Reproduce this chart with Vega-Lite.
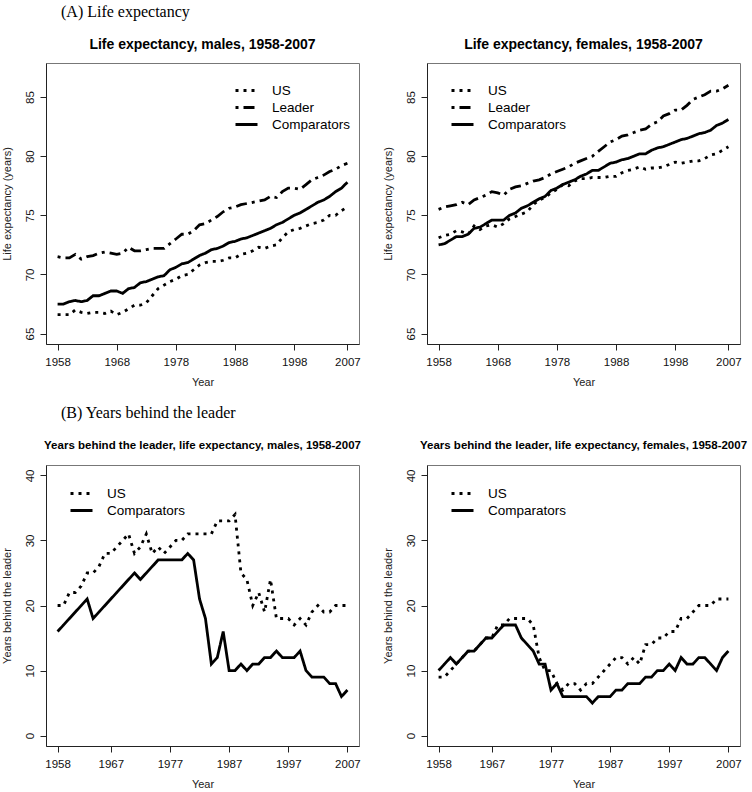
{
"$schema":"https://vega.github.io/schema/vega-lite/v6.json",
"background":"white",
"padding":{"left":0,"top":3,"right":0,"bottom":0},
"spacing":17,
"config":{
 "view":{"stroke":"#777","strokeWidth":1},
 "font":"Liberation Sans",
 "axis":{"grid":false,"domainColor":"#222","domainWidth":1,"tickColor":"#222","tickSize":6,"labelFont":"Liberation Sans","labelFontSize":11.5,"labelColor":"#111","labelPadding":6,"titleFont":"Liberation Sans","titleFontWeight":"normal","titleFontSize":11,"titleColor":"#222"},
 "axisX":{"titlePadding":9},
 "axisY":{"labelAngle":-90,"labelAlign":"center","labelBaseline":"bottom","labelPadding":5,"titlePadding":12},
 "legend":{"title":null,"symbolType":"stroke","symbolSize":484,"symbolStrokeWidth":2.8,"symbolStrokeColor":"black","labelFont":"Liberation Sans","labelFontSize":13.5,"labelColor":"black","labelOffset":13,"rowPadding":0,"clipHeight":17,"orient":"none"},
 "title":{"font":"Liberation Sans","fontWeight":"bold","color":"black","anchor":"middle","baseline":"alphabetic"}
},
"datasets":{
"males":[
{"year":1958,"series":"US","value":66.6},{"year":1958,"series":"Leader","value":71.5},{"year":1958,"series":"Comparators","value":67.5},
{"year":1959,"series":"US","value":66.6},{"year":1959,"series":"Leader","value":71.4},{"year":1959,"series":"Comparators","value":67.5},
{"year":1960,"series":"US","value":66.6},{"year":1960,"series":"Leader","value":71.4},{"year":1960,"series":"Comparators","value":67.7},
{"year":1961,"series":"US","value":67.0},{"year":1961,"series":"Leader","value":71.7},{"year":1961,"series":"Comparators","value":67.8},
{"year":1962,"series":"US","value":66.8},{"year":1962,"series":"Leader","value":71.3},{"year":1962,"series":"Comparators","value":67.7},
{"year":1963,"series":"US","value":66.7},{"year":1963,"series":"Leader","value":71.5},{"year":1963,"series":"Comparators","value":67.8},
{"year":1964,"series":"US","value":66.8},{"year":1964,"series":"Leader","value":71.6},{"year":1964,"series":"Comparators","value":68.2},
{"year":1965,"series":"US","value":66.8},{"year":1965,"series":"Leader","value":71.8},{"year":1965,"series":"Comparators","value":68.2},
{"year":1966,"series":"US","value":66.7},{"year":1966,"series":"Leader","value":71.9},{"year":1966,"series":"Comparators","value":68.4},
{"year":1967,"series":"US","value":66.9},{"year":1967,"series":"Leader","value":71.8},{"year":1967,"series":"Comparators","value":68.6},
{"year":1968,"series":"US","value":66.6},{"year":1968,"series":"Leader","value":71.7},{"year":1968,"series":"Comparators","value":68.6},
{"year":1969,"series":"US","value":66.8},{"year":1969,"series":"Leader","value":71.8},{"year":1969,"series":"Comparators","value":68.4},
{"year":1970,"series":"US","value":67.1},{"year":1970,"series":"Leader","value":72.3},{"year":1970,"series":"Comparators","value":68.8},
{"year":1971,"series":"US","value":67.4},{"year":1971,"series":"Leader","value":72.0},{"year":1971,"series":"Comparators","value":68.9},
{"year":1972,"series":"US","value":67.4},{"year":1972,"series":"Leader","value":72.0},{"year":1972,"series":"Comparators","value":69.3},
{"year":1973,"series":"US","value":67.6},{"year":1973,"series":"Leader","value":72.1},{"year":1973,"series":"Comparators","value":69.4},
{"year":1974,"series":"US","value":68.2},{"year":1974,"series":"Leader","value":72.2},{"year":1974,"series":"Comparators","value":69.6},
{"year":1975,"series":"US","value":68.8},{"year":1975,"series":"Leader","value":72.2},{"year":1975,"series":"Comparators","value":69.8},
{"year":1976,"series":"US","value":69.1},{"year":1976,"series":"Leader","value":72.2},{"year":1976,"series":"Comparators","value":69.9},
{"year":1977,"series":"US","value":69.4},{"year":1977,"series":"Leader","value":72.6},{"year":1977,"series":"Comparators","value":70.4},
{"year":1978,"series":"US","value":69.6},{"year":1978,"series":"Leader","value":73.0},{"year":1978,"series":"Comparators","value":70.6},
{"year":1979,"series":"US","value":69.9},{"year":1979,"series":"Leader","value":73.4},{"year":1979,"series":"Comparators","value":70.9},
{"year":1980,"series":"US","value":70.0},{"year":1980,"series":"Leader","value":73.4},{"year":1980,"series":"Comparators","value":71.0},
{"year":1981,"series":"US","value":70.4},{"year":1981,"series":"Leader","value":73.7},{"year":1981,"series":"Comparators","value":71.3},
{"year":1982,"series":"US","value":70.8},{"year":1982,"series":"Leader","value":74.2},{"year":1982,"series":"Comparators","value":71.6},
{"year":1983,"series":"US","value":71.0},{"year":1983,"series":"Leader","value":74.3},{"year":1983,"series":"Comparators","value":71.8},
{"year":1984,"series":"US","value":71.1},{"year":1984,"series":"Leader","value":74.6},{"year":1984,"series":"Comparators","value":72.1},
{"year":1985,"series":"US","value":71.1},{"year":1985,"series":"Leader","value":74.9},{"year":1985,"series":"Comparators","value":72.2},
{"year":1986,"series":"US","value":71.2},{"year":1986,"series":"Leader","value":75.3},{"year":1986,"series":"Comparators","value":72.4},
{"year":1987,"series":"US","value":71.4},{"year":1987,"series":"Leader","value":75.6},{"year":1987,"series":"Comparators","value":72.7},
{"year":1988,"series":"US","value":71.4},{"year":1988,"series":"Leader","value":75.7},{"year":1988,"series":"Comparators","value":72.8},
{"year":1989,"series":"US","value":71.7},{"year":1989,"series":"Leader","value":75.9},{"year":1989,"series":"Comparators","value":73.0},
{"year":1990,"series":"US","value":71.8},{"year":1990,"series":"Leader","value":76.0},{"year":1990,"series":"Comparators","value":73.1},
{"year":1991,"series":"US","value":72.0},{"year":1991,"series":"Leader","value":76.1},{"year":1991,"series":"Comparators","value":73.3},
{"year":1992,"series":"US","value":72.3},{"year":1992,"series":"Leader","value":76.2},{"year":1992,"series":"Comparators","value":73.5},
{"year":1993,"series":"US","value":72.2},{"year":1993,"series":"Leader","value":76.3},{"year":1993,"series":"Comparators","value":73.7},
{"year":1994,"series":"US","value":72.4},{"year":1994,"series":"Leader","value":76.6},{"year":1994,"series":"Comparators","value":73.9},
{"year":1995,"series":"US","value":72.5},{"year":1995,"series":"Leader","value":76.5},{"year":1995,"series":"Comparators","value":74.2},
{"year":1996,"series":"US","value":73.1},{"year":1996,"series":"Leader","value":77.0},{"year":1996,"series":"Comparators","value":74.4},
{"year":1997,"series":"US","value":73.6},{"year":1997,"series":"Leader","value":77.3},{"year":1997,"series":"Comparators","value":74.7},
{"year":1998,"series":"US","value":73.8},{"year":1998,"series":"Leader","value":77.3},{"year":1998,"series":"Comparators","value":75.0},
{"year":1999,"series":"US","value":73.9},{"year":1999,"series":"Leader","value":77.2},{"year":1999,"series":"Comparators","value":75.2},
{"year":2000,"series":"US","value":74.1},{"year":2000,"series":"Leader","value":77.6},{"year":2000,"series":"Comparators","value":75.5},
{"year":2001,"series":"US","value":74.3},{"year":2001,"series":"Leader","value":78.0},{"year":2001,"series":"Comparators","value":75.8},
{"year":2002,"series":"US","value":74.4},{"year":2002,"series":"Leader","value":78.2},{"year":2002,"series":"Comparators","value":76.1},
{"year":2003,"series":"US","value":74.6},{"year":2003,"series":"Leader","value":78.4},{"year":2003,"series":"Comparators","value":76.3},
{"year":2004,"series":"US","value":75.0},{"year":2004,"series":"Leader","value":78.7},{"year":2004,"series":"Comparators","value":76.6},
{"year":2005,"series":"US","value":75.0},{"year":2005,"series":"Leader","value":78.9},{"year":2005,"series":"Comparators","value":77.0},
{"year":2006,"series":"US","value":75.4},{"year":2006,"series":"Leader","value":79.2},{"year":2006,"series":"Comparators","value":77.3},
{"year":2007,"series":"US","value":75.7},{"year":2007,"series":"Leader","value":79.4},{"year":2007,"series":"Comparators","value":77.8}
],
"females":[
{"year":1958,"series":"US","value":73.1},{"year":1958,"series":"Leader","value":75.5},{"year":1958,"series":"Comparators","value":72.5},
{"year":1959,"series":"US","value":73.3},{"year":1959,"series":"Leader","value":75.7},{"year":1959,"series":"Comparators","value":72.6},
{"year":1960,"series":"US","value":73.4},{"year":1960,"series":"Leader","value":75.8},{"year":1960,"series":"Comparators","value":72.9},
{"year":1961,"series":"US","value":73.7},{"year":1961,"series":"Leader","value":75.9},{"year":1961,"series":"Comparators","value":73.2},
{"year":1962,"series":"US","value":73.6},{"year":1962,"series":"Leader","value":76.1},{"year":1962,"series":"Comparators","value":73.2},
{"year":1963,"series":"US","value":73.4},{"year":1963,"series":"Leader","value":75.9},{"year":1963,"series":"Comparators","value":73.4},
{"year":1964,"series":"US","value":74.1},{"year":1964,"series":"Leader","value":76.3},{"year":1964,"series":"Comparators","value":73.9},
{"year":1965,"series":"US","value":73.8},{"year":1965,"series":"Leader","value":76.5},{"year":1965,"series":"Comparators","value":74.0},
{"year":1966,"series":"US","value":74.1},{"year":1966,"series":"Leader","value":76.7},{"year":1966,"series":"Comparators","value":74.3},
{"year":1967,"series":"US","value":74.2},{"year":1967,"series":"Leader","value":77.0},{"year":1967,"series":"Comparators","value":74.6},
{"year":1968,"series":"US","value":74.0},{"year":1968,"series":"Leader","value":76.9},{"year":1968,"series":"Comparators","value":74.6},
{"year":1969,"series":"US","value":74.3},{"year":1969,"series":"Leader","value":76.7},{"year":1969,"series":"Comparators","value":74.6},
{"year":1970,"series":"US","value":74.7},{"year":1970,"series":"Leader","value":77.2},{"year":1970,"series":"Comparators","value":75.0},
{"year":1971,"series":"US","value":74.9},{"year":1971,"series":"Leader","value":77.4},{"year":1971,"series":"Comparators","value":75.2},
{"year":1972,"series":"US","value":75.1},{"year":1972,"series":"Leader","value":77.5},{"year":1972,"series":"Comparators","value":75.6},
{"year":1973,"series":"US","value":75.3},{"year":1973,"series":"Leader","value":77.7},{"year":1973,"series":"Comparators","value":75.8},
{"year":1974,"series":"US","value":75.9},{"year":1974,"series":"Leader","value":77.9},{"year":1974,"series":"Comparators","value":76.1},
{"year":1975,"series":"US","value":76.3},{"year":1975,"series":"Leader","value":78.0},{"year":1975,"series":"Comparators","value":76.4},
{"year":1976,"series":"US","value":76.5},{"year":1976,"series":"Leader","value":78.2},{"year":1976,"series":"Comparators","value":76.6},
{"year":1977,"series":"US","value":76.9},{"year":1977,"series":"Leader","value":78.5},{"year":1977,"series":"Comparators","value":77.1},
{"year":1978,"series":"US","value":77.2},{"year":1978,"series":"Leader","value":78.7},{"year":1978,"series":"Comparators","value":77.3},
{"year":1979,"series":"US","value":77.6},{"year":1979,"series":"Leader","value":78.9},{"year":1979,"series":"Comparators","value":77.6},
{"year":1980,"series":"US","value":77.5},{"year":1980,"series":"Leader","value":79.1},{"year":1980,"series":"Comparators","value":77.8},
{"year":1981,"series":"US","value":77.9},{"year":1981,"series":"Leader","value":79.4},{"year":1981,"series":"Comparators","value":78.0},
{"year":1982,"series":"US","value":78.1},{"year":1982,"series":"Leader","value":79.6},{"year":1982,"series":"Comparators","value":78.3},
{"year":1983,"series":"US","value":78.1},{"year":1983,"series":"Leader","value":79.8},{"year":1983,"series":"Comparators","value":78.5},
{"year":1984,"series":"US","value":78.2},{"year":1984,"series":"Leader","value":80.0},{"year":1984,"series":"Comparators","value":78.8},
{"year":1985,"series":"US","value":78.2},{"year":1985,"series":"Leader","value":80.4},{"year":1985,"series":"Comparators","value":78.8},
{"year":1986,"series":"US","value":78.2},{"year":1986,"series":"Leader","value":80.8},{"year":1986,"series":"Comparators","value":79.1},
{"year":1987,"series":"US","value":78.3},{"year":1987,"series":"Leader","value":81.2},{"year":1987,"series":"Comparators","value":79.4},
{"year":1988,"series":"US","value":78.3},{"year":1988,"series":"Leader","value":81.4},{"year":1988,"series":"Comparators","value":79.5},
{"year":1989,"series":"US","value":78.6},{"year":1989,"series":"Leader","value":81.7},{"year":1989,"series":"Comparators","value":79.7},
{"year":1990,"series":"US","value":78.8},{"year":1990,"series":"Leader","value":81.8},{"year":1990,"series":"Comparators","value":79.8},
{"year":1991,"series":"US","value":78.9},{"year":1991,"series":"Leader","value":82.0},{"year":1991,"series":"Comparators","value":80.0},
{"year":1992,"series":"US","value":79.1},{"year":1992,"series":"Leader","value":82.2},{"year":1992,"series":"Comparators","value":80.2},
{"year":1993,"series":"US","value":78.9},{"year":1993,"series":"Leader","value":82.3},{"year":1993,"series":"Comparators","value":80.2},
{"year":1994,"series":"US","value":79.0},{"year":1994,"series":"Leader","value":82.7},{"year":1994,"series":"Comparators","value":80.5},
{"year":1995,"series":"US","value":79.0},{"year":1995,"series":"Leader","value":82.9},{"year":1995,"series":"Comparators","value":80.7},
{"year":1996,"series":"US","value":79.1},{"year":1996,"series":"Leader","value":83.4},{"year":1996,"series":"Comparators","value":80.8},
{"year":1997,"series":"US","value":79.3},{"year":1997,"series":"Leader","value":83.6},{"year":1997,"series":"Comparators","value":81.0},
{"year":1998,"series":"US","value":79.5},{"year":1998,"series":"Leader","value":83.9},{"year":1998,"series":"Comparators","value":81.2},
{"year":1999,"series":"US","value":79.4},{"year":1999,"series":"Leader","value":83.9},{"year":1999,"series":"Comparators","value":81.4},
{"year":2000,"series":"US","value":79.5},{"year":2000,"series":"Leader","value":84.3},{"year":2000,"series":"Comparators","value":81.5},
{"year":2001,"series":"US","value":79.6},{"year":2001,"series":"Leader","value":84.8},{"year":2001,"series":"Comparators","value":81.7},
{"year":2002,"series":"US","value":79.6},{"year":2002,"series":"Leader","value":85.0},{"year":2002,"series":"Comparators","value":81.9},
{"year":2003,"series":"US","value":79.8},{"year":2003,"series":"Leader","value":85.2},{"year":2003,"series":"Comparators","value":82.0},
{"year":2004,"series":"US","value":80.1},{"year":2004,"series":"Leader","value":85.5},{"year":2004,"series":"Comparators","value":82.2},
{"year":2005,"series":"US","value":80.2},{"year":2005,"series":"Leader","value":85.5},{"year":2005,"series":"Comparators","value":82.6},
{"year":2006,"series":"US","value":80.5},{"year":2006,"series":"Leader","value":85.7},{"year":2006,"series":"Comparators","value":82.8},
{"year":2007,"series":"US","value":80.8},{"year":2007,"series":"Leader","value":86.0},{"year":2007,"series":"Comparators","value":83.1}
],
"behindM":[
{"year":1958,"series":"US","value":20},{"year":1958,"series":"Comparators","value":16},
{"year":1959,"series":"US","value":20},{"year":1959,"series":"Comparators","value":17},
{"year":1960,"series":"US","value":22},{"year":1960,"series":"Comparators","value":18},
{"year":1961,"series":"US","value":22},{"year":1961,"series":"Comparators","value":19},
{"year":1962,"series":"US","value":23},{"year":1962,"series":"Comparators","value":20},
{"year":1963,"series":"US","value":25},{"year":1963,"series":"Comparators","value":21},
{"year":1964,"series":"US","value":25},{"year":1964,"series":"Comparators","value":18},
{"year":1965,"series":"US","value":26},{"year":1965,"series":"Comparators","value":19},
{"year":1966,"series":"US","value":28},{"year":1966,"series":"Comparators","value":20},
{"year":1967,"series":"US","value":28},{"year":1967,"series":"Comparators","value":21},
{"year":1968,"series":"US","value":29},{"year":1968,"series":"Comparators","value":22},
{"year":1969,"series":"US","value":30},{"year":1969,"series":"Comparators","value":23},
{"year":1970,"series":"US","value":31},{"year":1970,"series":"Comparators","value":24},
{"year":1971,"series":"US","value":28},{"year":1971,"series":"Comparators","value":25},
{"year":1972,"series":"US","value":29},{"year":1972,"series":"Comparators","value":24},
{"year":1973,"series":"US","value":31},{"year":1973,"series":"Comparators","value":25},
{"year":1974,"series":"US","value":28},{"year":1974,"series":"Comparators","value":26},
{"year":1975,"series":"US","value":29},{"year":1975,"series":"Comparators","value":27},
{"year":1976,"series":"US","value":28},{"year":1976,"series":"Comparators","value":27},
{"year":1977,"series":"US","value":29},{"year":1977,"series":"Comparators","value":27},
{"year":1978,"series":"US","value":30},{"year":1978,"series":"Comparators","value":27},
{"year":1979,"series":"US","value":30},{"year":1979,"series":"Comparators","value":27},
{"year":1980,"series":"US","value":31},{"year":1980,"series":"Comparators","value":28},
{"year":1981,"series":"US","value":31},{"year":1981,"series":"Comparators","value":27},
{"year":1982,"series":"US","value":31},{"year":1982,"series":"Comparators","value":21},
{"year":1983,"series":"US","value":31},{"year":1983,"series":"Comparators","value":18},
{"year":1984,"series":"US","value":31},{"year":1984,"series":"Comparators","value":11},
{"year":1985,"series":"US","value":33},{"year":1985,"series":"Comparators","value":12},
{"year":1986,"series":"US","value":33},{"year":1986,"series":"Comparators","value":16},
{"year":1987,"series":"US","value":33},{"year":1987,"series":"Comparators","value":10},
{"year":1988,"series":"US","value":34},{"year":1988,"series":"Comparators","value":10},
{"year":1989,"series":"US","value":25},{"year":1989,"series":"Comparators","value":11},
{"year":1990,"series":"US","value":24},{"year":1990,"series":"Comparators","value":10},
{"year":1991,"series":"US","value":20},{"year":1991,"series":"Comparators","value":11},
{"year":1992,"series":"US","value":22},{"year":1992,"series":"Comparators","value":11},
{"year":1993,"series":"US","value":19},{"year":1993,"series":"Comparators","value":12},
{"year":1994,"series":"US","value":24},{"year":1994,"series":"Comparators","value":12},
{"year":1995,"series":"US","value":18},{"year":1995,"series":"Comparators","value":13},
{"year":1996,"series":"US","value":18},{"year":1996,"series":"Comparators","value":12},
{"year":1997,"series":"US","value":18},{"year":1997,"series":"Comparators","value":12},
{"year":1998,"series":"US","value":17},{"year":1998,"series":"Comparators","value":12},
{"year":1999,"series":"US","value":18},{"year":1999,"series":"Comparators","value":13},
{"year":2000,"series":"US","value":17},{"year":2000,"series":"Comparators","value":10},
{"year":2001,"series":"US","value":19},{"year":2001,"series":"Comparators","value":9},
{"year":2002,"series":"US","value":20},{"year":2002,"series":"Comparators","value":9},
{"year":2003,"series":"US","value":19},{"year":2003,"series":"Comparators","value":9},
{"year":2004,"series":"US","value":19},{"year":2004,"series":"Comparators","value":8},
{"year":2005,"series":"US","value":20},{"year":2005,"series":"Comparators","value":8},
{"year":2006,"series":"US","value":20},{"year":2006,"series":"Comparators","value":6},
{"year":2007,"series":"US","value":20},{"year":2007,"series":"Comparators","value":7}
],
"behindF":[
{"year":1958,"series":"US","value":9},{"year":1958,"series":"Comparators","value":10},
{"year":1959,"series":"US","value":9},{"year":1959,"series":"Comparators","value":11},
{"year":1960,"series":"US","value":10},{"year":1960,"series":"Comparators","value":12},
{"year":1961,"series":"US","value":11},{"year":1961,"series":"Comparators","value":11},
{"year":1962,"series":"US","value":12},{"year":1962,"series":"Comparators","value":12},
{"year":1963,"series":"US","value":13},{"year":1963,"series":"Comparators","value":13},
{"year":1964,"series":"US","value":13},{"year":1964,"series":"Comparators","value":13},
{"year":1965,"series":"US","value":14},{"year":1965,"series":"Comparators","value":14},
{"year":1966,"series":"US","value":15},{"year":1966,"series":"Comparators","value":15},
{"year":1967,"series":"US","value":15},{"year":1967,"series":"Comparators","value":15},
{"year":1968,"series":"US","value":17},{"year":1968,"series":"Comparators","value":16},
{"year":1969,"series":"US","value":17},{"year":1969,"series":"Comparators","value":17},
{"year":1970,"series":"US","value":18},{"year":1970,"series":"Comparators","value":17},
{"year":1971,"series":"US","value":18},{"year":1971,"series":"Comparators","value":17},
{"year":1972,"series":"US","value":18},{"year":1972,"series":"Comparators","value":15},
{"year":1973,"series":"US","value":18},{"year":1973,"series":"Comparators","value":14},
{"year":1974,"series":"US","value":17},{"year":1974,"series":"Comparators","value":13},
{"year":1975,"series":"US","value":12},{"year":1975,"series":"Comparators","value":11},
{"year":1976,"series":"US","value":10},{"year":1976,"series":"Comparators","value":11},
{"year":1977,"series":"US","value":10},{"year":1977,"series":"Comparators","value":7},
{"year":1978,"series":"US","value":8},{"year":1978,"series":"Comparators","value":8},
{"year":1979,"series":"US","value":7},{"year":1979,"series":"Comparators","value":6},
{"year":1980,"series":"US","value":8},{"year":1980,"series":"Comparators","value":6},
{"year":1981,"series":"US","value":8},{"year":1981,"series":"Comparators","value":6},
{"year":1982,"series":"US","value":7},{"year":1982,"series":"Comparators","value":6},
{"year":1983,"series":"US","value":8},{"year":1983,"series":"Comparators","value":6},
{"year":1984,"series":"US","value":8},{"year":1984,"series":"Comparators","value":5},
{"year":1985,"series":"US","value":9},{"year":1985,"series":"Comparators","value":6},
{"year":1986,"series":"US","value":10},{"year":1986,"series":"Comparators","value":6},
{"year":1987,"series":"US","value":11},{"year":1987,"series":"Comparators","value":6},
{"year":1988,"series":"US","value":12},{"year":1988,"series":"Comparators","value":7},
{"year":1989,"series":"US","value":12},{"year":1989,"series":"Comparators","value":7},
{"year":1990,"series":"US","value":11},{"year":1990,"series":"Comparators","value":8},
{"year":1991,"series":"US","value":12},{"year":1991,"series":"Comparators","value":8},
{"year":1992,"series":"US","value":11},{"year":1992,"series":"Comparators","value":8},
{"year":1993,"series":"US","value":14},{"year":1993,"series":"Comparators","value":9},
{"year":1994,"series":"US","value":14},{"year":1994,"series":"Comparators","value":9},
{"year":1995,"series":"US","value":15},{"year":1995,"series":"Comparators","value":10},
{"year":1996,"series":"US","value":15},{"year":1996,"series":"Comparators","value":10},
{"year":1997,"series":"US","value":16},{"year":1997,"series":"Comparators","value":11},
{"year":1998,"series":"US","value":16},{"year":1998,"series":"Comparators","value":10},
{"year":1999,"series":"US","value":18},{"year":1999,"series":"Comparators","value":12},
{"year":2000,"series":"US","value":18},{"year":2000,"series":"Comparators","value":11},
{"year":2001,"series":"US","value":19},{"year":2001,"series":"Comparators","value":11},
{"year":2002,"series":"US","value":20},{"year":2002,"series":"Comparators","value":12},
{"year":2003,"series":"US","value":20},{"year":2003,"series":"Comparators","value":12},
{"year":2004,"series":"US","value":20},{"year":2004,"series":"Comparators","value":11},
{"year":2005,"series":"US","value":21},{"year":2005,"series":"Comparators","value":10},
{"year":2006,"series":"US","value":21},{"year":2006,"series":"Comparators","value":12},
{"year":2007,"series":"US","value":21},{"year":2007,"series":"Comparators","value":13}
]
},
"resolve":{"scale":{"x":"independent","y":"independent","strokeDash":"independent"},"legend":{"strokeDash":"independent"}},
"vconcat":[
{
 "title":{"text":"(A) Life expectancy","font":"Liberation Serif","fontSize":16,"fontWeight":"normal","anchor":"start","frame":"group","dx":15,"offset":18},
 "bounds":"flush","spacing":68,
 "resolve":{"scale":{"x":"independent","y":"independent","strokeDash":"independent"},"legend":{"strokeDash":"independent"}},
 "hconcat":[
 {
  "width":313,"height":281,
  "title":{"text":"Life expectancy, males, 1958-2007","fontSize":14,"offset":11},
  "data":{"name":"males"},
  "mark":{"type":"line","strokeWidth":2.8,"color":"black","strokeCap":"butt"},
  "encoding":{
   "x":{"field":"year","type":"quantitative","scale":{"domain":[1956.04,2008.96],"nice":false,"zero":false},"axis":{"values":[1958,1968,1978,1988,1998,2007],"format":"d","title":"Year"}},
   "y":{"field":"value","type":"quantitative","scale":{"domain":[64.12,87.88],"nice":false,"zero":false},"axis":{"values":[65,70,75,80,85],"title":"Life expectancy (years)"}},
   "strokeDash":{"field":"series","type":"nominal","scale":{"domain":["US","Leader","Comparators"],"range":[[3,5],[3,5,11,5],[1,0]]},"legend":{"orient":"none","legendX":188,"legendY":19}}
  }
 },
 {
  "width":313,"height":281,
  "title":{"text":"Life expectancy, females, 1958-2007","fontSize":14,"offset":11},
  "data":{"name":"females"},
  "mark":{"type":"line","strokeWidth":2.8,"color":"black","strokeCap":"butt"},
  "encoding":{
   "x":{"field":"year","type":"quantitative","scale":{"domain":[1956.04,2008.96],"nice":false,"zero":false},"axis":{"values":[1958,1968,1978,1988,1998,2007],"format":"d","title":"Year"}},
   "y":{"field":"value","type":"quantitative","scale":{"domain":[64.12,87.88],"nice":false,"zero":false},"axis":{"values":[65,70,75,80,85],"title":"Life expectancy (years)"}},
   "strokeDash":{"field":"series","type":"nominal","scale":{"domain":["US","Leader","Comparators"],"range":[[3,5],[3,5,11,5],[1,0]]},"legend":{"orient":"none","legendX":23,"legendY":19}}
  }
 }
 ]
},
{
 "title":{"text":"(B) Years behind the leader","font":"Liberation Serif","fontSize":16,"fontWeight":"normal","anchor":"start","frame":"group","dx":15,"offset":18},
 "bounds":"flush","spacing":68,
 "resolve":{"scale":{"x":"independent","y":"independent","strokeDash":"independent"},"legend":{"strokeDash":"independent"}},
 "hconcat":[
 {
  "width":313,"height":281,
  "title":{"text":"Years behind the leader, life expectancy, males, 1958-2007","fontSize":11.5,"offset":14},
  "data":{"name":"behindM"},
  "mark":{"type":"line","strokeWidth":2.8,"color":"black","strokeCap":"butt"},
  "encoding":{
   "x":{"field":"year","type":"quantitative","scale":{"domain":[1956.04,2008.96],"nice":false,"zero":false},"axis":{"values":[1958,1967,1977,1987,1997,2007],"format":"d","title":"Year"}},
   "y":{"field":"value","type":"quantitative","scale":{"domain":[-1.6,41.6],"nice":false,"zero":false},"axis":{"values":[0,10,20,30,40],"title":"Years behind the leader"}},
   "strokeDash":{"field":"series","type":"nominal","scale":{"domain":["US","Comparators"],"range":[[3,5],[1,0]]},"legend":{"orient":"none","legendX":23,"legendY":20}}
  }
 },
 {
  "width":313,"height":281,
  "title":{"text":"Years behind the leader, life expectancy, females, 1958-2007","fontSize":11.5,"offset":14},
  "data":{"name":"behindF"},
  "mark":{"type":"line","strokeWidth":2.8,"color":"black","strokeCap":"butt"},
  "encoding":{
   "x":{"field":"year","type":"quantitative","scale":{"domain":[1956.04,2008.96],"nice":false,"zero":false},"axis":{"values":[1958,1967,1977,1987,1997,2007],"format":"d","title":"Year"}},
   "y":{"field":"value","type":"quantitative","scale":{"domain":[-1.6,41.6],"nice":false,"zero":false},"axis":{"values":[0,10,20,30,40],"title":"Years behind the leader"}},
   "strokeDash":{"field":"series","type":"nominal","scale":{"domain":["US","Comparators"],"range":[[3,5],[1,0]]},"legend":{"orient":"none","legendX":23,"legendY":20}}
  }
 }
 ]
}
]
}
